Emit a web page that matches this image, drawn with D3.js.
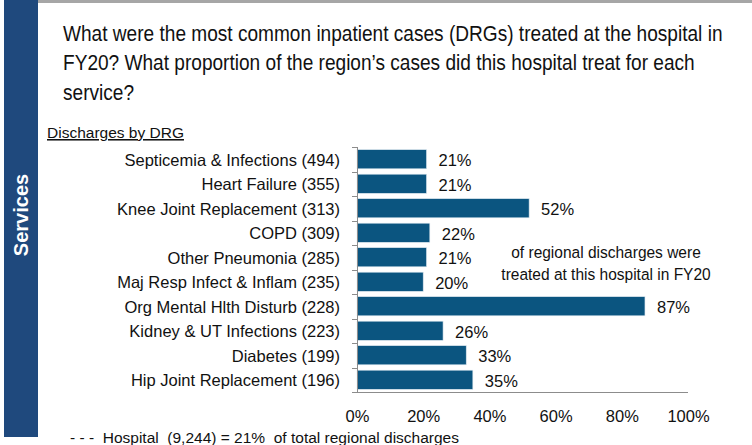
<!DOCTYPE html>
<html>
<head>
<meta charset="utf-8">
<script src="https://cdn.jsdelivr.net/npm/d3@7"></script>
<style>
  body { margin: 0; background: #fff; }
  svg text { font-family: "Liberation Sans", Arial, sans-serif; fill: #111; }
</style>
</head>
<body>
<script>
var svgWidth = 752;
var svgHeight = 445;

// chart data
var categories = ["Septicemia & Infections (494)", "Heart Failure (355)", "Knee Joint Replacement (313)",
                  "COPD (309)", "Other Pneumonia (285)", "Maj Resp Infect & Inflam (235)",
                  "Org Mental Hlth Disturb (228)", "Kidney & UT Infections (223)",
                  "Diabetes (199)", "Hip Joint Replacement (196)"];
var regionalShare = [0.21, 0.21, 0.52, 0.22, 0.21, 0.20, 0.87, 0.26, 0.33, 0.35];
var xTicks = [0, 0.2, 0.4, 0.6, 0.8, 1];

var titleLines = ["What were the most common inpatient cases (DRGs) treated at the hospital in",
                  "FY20? What proportion of the region\u2019s cases did this hospital treat for each",
                  "service?"];
var noteLines = ["of regional discharges were", "treated at this hospital in FY20"];
var footnote = "- - -  Hospital  (9,244) = 21%  of total regional discharges";

var data = categories.map((c, i) => ({name: c, value: regionalShare[i]}));

var svg = d3.select("body")
            .append("svg")
            .attr("width", svgWidth)
            .attr("height", svgHeight);

// frame: top grey rule and blue side tab
svg.append("rect")
   .attr("x", 38).attr("y", 0)
   .attr("width", svgWidth - 38).attr("height", 3)
   .attr("fill", "#a6a6a6");

svg.append("rect")
   .attr("x", 4).attr("y", 0)
   .attr("width", 34).attr("height", 437)
   .attr("fill", "#1f497d");

svg.append("text")
   .attr("transform", "translate(28, 215) rotate(-90)")
   .attr("text-anchor", "middle")
   .style("font-weight", "bold")
   .style("font-size", "20px")
   .style("fill", "#fff")
   .text("Services");

// title (squeezed horizontally, the original uses a condensed face)
svg.append("g")
   .attr("transform", "translate(63, 0) scale(0.868, 1)")
   .selectAll("text")
   .data(titleLines)
   .enter()
   .append("text")
   .attr("x", 0)
   .attr("y", (d, i) => 41 + i * 29.5)
   .style("font-size", "22px")
   .text(d => d);

// subtitle
svg.append("text")
   .attr("x", 47)
   .attr("y", 138)
   .style("font-size", "15.5px")
   .style("text-decoration", "underline")
   .text("Discharges by DRG");

// scales
var x = d3.scaleLinear().domain([0, 1]).range([357, 688]);
var y = d3.scaleBand()
          .domain(categories)
          .range([147, 392])
          .paddingInner(0.22)
          .paddingOuter(0.11);

// bars
svg.append("g").selectAll("rect")
   .data(data)
   .enter()
   .append("rect")
   .attr("x", x(0))
   .attr("y", d => y(d.name))
   .attr("width", d => x(d.value) - x(0))
   .attr("height", y.bandwidth())
   .attr("fill", "#0b5580")
   .attr("stroke", "#dbe6ee")
   .attr("stroke-width", 0.6);

// category labels
svg.append("g").selectAll("text")
   .data(data)
   .enter()
   .append("text")
   .attr("x", 340)
   .attr("y", d => y(d.name) + y.bandwidth() / 2 + 6.5)
   .attr("text-anchor", "end")
   .style("font-size", "16.5px")
   .text(d => d.name);

// value labels
svg.append("g").selectAll("text")
   .data(data)
   .enter()
   .append("text")
   .attr("x", d => x(d.value) + 12)
   .attr("y", d => y(d.name) + y.bandwidth() / 2 + 7)
   .style("font-size", "16.5px")
   .text(d => d3.format(".0%")(d.value));

// y axis: line with outward ticks at band edges
var yAxisG = svg.append("g").attr("stroke", "#8c8c8c").attr("stroke-width", 1);
yAxisG.append("line")
      .attr("x1", 357.5).attr("x2", 357.5)
      .attr("y1", 147).attr("y2", 392);
var edges = categories.map(c => y(c) - y.step() * 0.11);
edges.push(392);
yAxisG.selectAll("line.tick")
      .data(edges)
      .enter()
      .append("line")
      .attr("class", "tick")
      .attr("x1", 352).attr("x2", 357.5)
      .attr("y1", d => Math.round(d) + 0.5)
      .attr("y2", d => Math.round(d) + 0.5);

// x axis
var bottomAxis = d3.axisBottom(x)
                   .tickValues(xTicks)
                   .tickFormat(d3.format(".0%"))
                   .tickSize(0)
                   .tickPadding(18);
var xAxis = svg.append("g")
               .attr("transform", "translate(0, 392.5)")
               .call(bottomAxis);
xAxis.select(".domain").remove();
xAxis.append("line")
     .attr("x1", 352).attr("x2", 688)
     .attr("stroke", "#8c8c8c");
xAxis.selectAll("text")
     .style("font-size", "16.5px")
     .style("font-family", "'Liberation Sans', Arial, sans-serif")
     .attr("fill", "#111");

// annotation
svg.append("g")
   .attr("transform", "translate(606, 0) scale(0.94, 1)")
   .selectAll("text")
   .data(noteLines)
   .enter()
   .append("text")
   .attr("x", 0)
   .attr("y", (d, i) => 258 + i * 22)
   .attr("text-anchor", "middle")
   .style("font-size", "16.5px")
   .text(d => d);

// footnote
svg.append("text")
   .attr("x", 70)
   .attr("y", 443)
   .style("font-size", "15.5px")
   .style("white-space", "pre")
   .text(footnote);
</script>
</body>
</html>
